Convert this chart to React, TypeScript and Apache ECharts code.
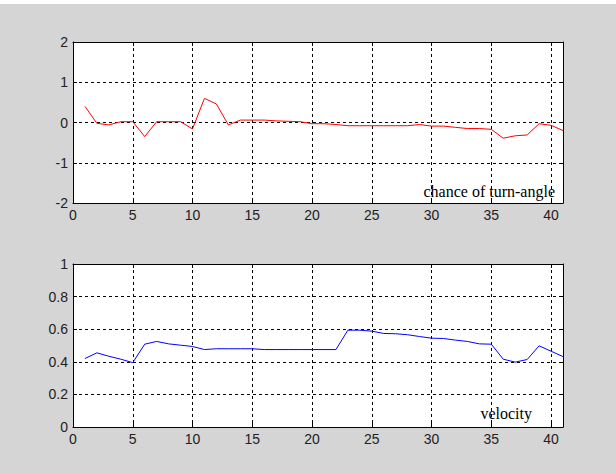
import React, { useEffect, useRef } from "react";
import * as echarts from "echarts";

const xValues = [1,2,3,4,5,6,7,8,9,10,11,12,13,14,15,16,17,18,19,20,21,22,23,24,25,26,27,28,29,30,31,32,33,34,35,36,37,38,39,40,41];
const turnAngle = [0.40,-0.02,-0.06,0.02,0.02,-0.35,0.02,0.02,0.02,-0.16,0.60,0.46,-0.06,0.06,0.06,0.06,0.04,0.03,0.02,-0.03,-0.03,-0.05,-0.08,-0.08,-0.08,-0.08,-0.08,-0.08,-0.05,-0.09,-0.09,-0.12,-0.15,-0.15,-0.17,-0.39,-0.33,-0.31,-0.03,-0.07,-0.20];
const velocity = [0.42,0.455,0.434,0.416,0.395,0.508,0.525,0.51,0.502,0.494,0.475,0.48,0.48,0.48,0.48,0.475,0.475,0.475,0.475,0.475,0.475,0.475,0.594,0.594,0.588,0.574,0.572,0.566,0.555,0.545,0.543,0.533,0.525,0.51,0.508,0.416,0.398,0.414,0.498,0.465,0.432];
const topLabel = "chance of turn-angle";
const bottomLabel = "velocity";

const tickFont = { fontFamily: "Liberation Sans, Arial, sans-serif", fontSize: 14, color: "#222" };
const gridLine = { show: true, lineStyle: { color: "#000", type: [3, 3] as any, width: 1 } };

function xAxis(gridIndex: number) {
  return [
    {
      type: "value", gridIndex, min: 0, max: 41, interval: 5,
      axisLine: { show: true, onZero: false, lineStyle: { color: "#000" } },
      axisTick: { show: true, inside: true, length: 4, lineStyle: { color: "#000" } },
      axisLabel: { ...tickFont, margin: 5, showMaxLabel: false },
      splitLine: gridLine,
    },
    {
      type: "value", gridIndex, position: "top", min: 0, max: 41, interval: 5,
      axisLine: { show: true, onZero: false, lineStyle: { color: "#000" } },
      axisTick: { show: true, inside: true, length: 4, lineStyle: { color: "#000" } },
      axisLabel: { show: false },
      splitLine: { show: false },
    },
  ];
}

function yAxis(gridIndex: number, min: number, max: number, interval: number, fmt: (v: number) => string) {
  return [
    {
      type: "value", gridIndex, min, max, interval,
      axisLine: { show: true, onZero: false, lineStyle: { color: "#000" } },
      axisTick: { show: true, inside: true, length: 4, lineStyle: { color: "#000" } },
      axisLabel: { ...tickFont, margin: 5, formatter: fmt },
      splitLine: gridLine,
    },
    {
      type: "value", gridIndex, position: "right", min, max, interval,
      axisLine: { show: true, onZero: false, lineStyle: { color: "#000" } },
      axisTick: { show: true, inside: true, length: 4, lineStyle: { color: "#000" } },
      axisLabel: { show: false },
      splitLine: { show: false },
    },
  ];
}

export default function App() {
  const ref = useRef<HTMLDivElement>(null);
  useEffect(() => {
    if (!ref.current) return;
    const chart = echarts.init(ref.current, null, { renderer: "svg" });
    chart.setOption({
      animation: false,
      backgroundColor: "#d5d5d5",
      grid: [
        { left: 73, top: 42, width: 490, height: 161, show: true, backgroundColor: "#fff", borderColor: "#000", borderWidth: 0 },
        { left: 73, top: 264, width: 490, height: 163, show: true, backgroundColor: "#fff", borderColor: "#000", borderWidth: 0 },
      ],
      xAxis: [...xAxis(0), ...xAxis(1)],
      yAxis: [
        ...yAxis(0, -2, 2, 1, (v: number) => String(v)),
        ...yAxis(1, 0, 1, 0.2, (v: number) => (v === 0 || v === 1 ? String(v) : v.toFixed(1))),
      ],
      series: [
        {
          type: "line", xAxisIndex: 0, yAxisIndex: 0, symbol: "none",
          data: xValues.map((x, i) => [x, turnAngle[i]]),
          lineStyle: { color: "#ff0000", width: 1 },
        },
        {
          type: "line", xAxisIndex: 2, yAxisIndex: 2, symbol: "none",
          data: xValues.map((x, i) => [x, velocity[i]]),
          lineStyle: { color: "#0000ff", width: 1 },
        },
      ],
      graphic: [
        { type: "rect", shape: { x: 0, y: 0, width: 616, height: 4 }, style: { fill: "#fff" }, silent: true },
        {
          type: "text", x: 555, y: 199,
          style: { text: topLabel, font: "16px 'Liberation Serif', 'Times New Roman', serif", fill: "#000", textAlign: "right", textVerticalAlign: "bottom" },
        },
        {
          type: "text", x: 532, y: 421,
          style: { text: bottomLabel, font: "16px 'Liberation Serif', 'Times New Roman', serif", fill: "#000", textAlign: "right", textVerticalAlign: "bottom" },
        },
      ],
    });
    return () => chart.dispose();
  }, []);
  return <div ref={ref} style={{ position: "fixed", left: 0, top: 0, width: 616, height: 474 }} />;
}
